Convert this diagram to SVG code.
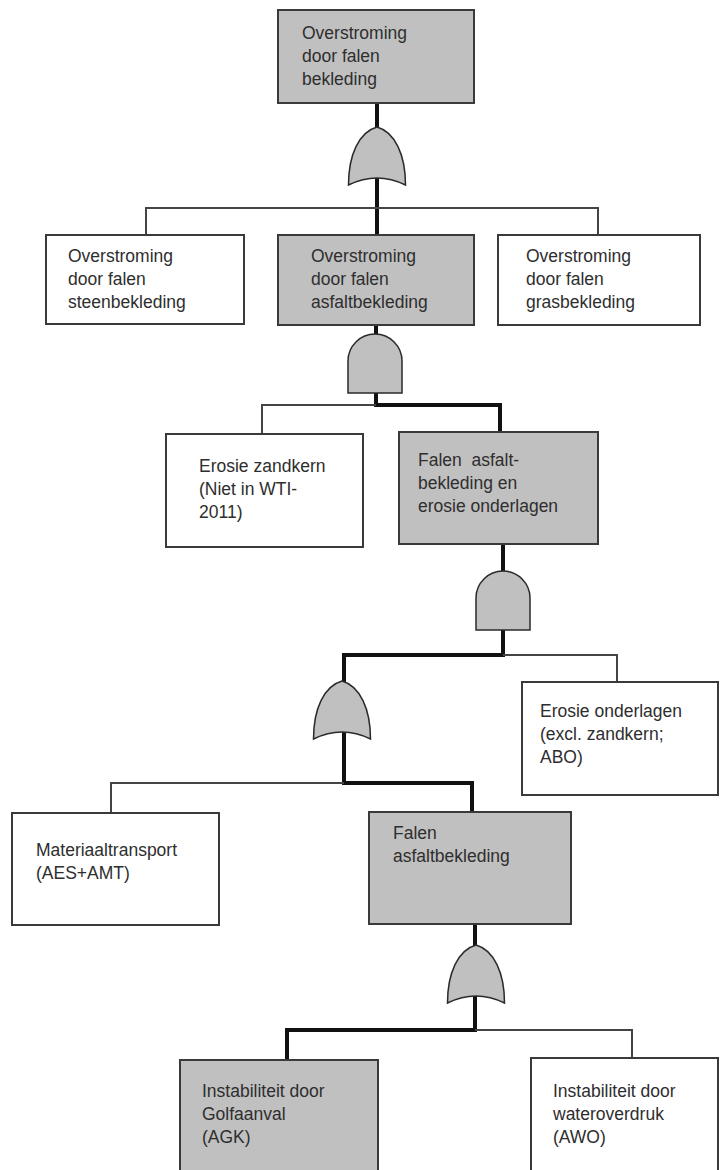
<svg xmlns="http://www.w3.org/2000/svg" width="722" height="1170" viewBox="0 0 722 1170">
<style>
.box{stroke:#3a3a3a;stroke-width:2}
.g{fill:#c0c0c0}
.w{fill:#ffffff}
.gate{fill:#c0c0c0;stroke:#2a2a2a;stroke-width:1.5}
.thick{fill:none;stroke:#111;stroke-width:4;stroke-linejoin:miter}
.thin{fill:none;stroke:#444;stroke-width:2;stroke-linejoin:miter}
text{font-family:"Liberation Sans",Arial,sans-serif;font-size:17.5px;fill:#2e2e2e;white-space:pre}
</style>
<defs>
<path id="or" d="M0,0 C18,5 28.5,28 28.5,58 Q0,44 -28.5,58 C-28.5,28 -18,5 0,0 Z"/>
<path id="and" d="M-27,59 L-27,27 A27,27 0 0 1 27,27 L27,59 Z"/>
</defs>
<rect width="722" height="1170" fill="#fff"/>
<g id="connectors">
<path class="thick" d="M377,103 V235"/>
<path class="thick" d="M376,325 V405 H500 V432"/>
<path class="thick" d="M503,544 V655 H344 V783 H472 V812"/>
<path class="thick" d="M475,924 V1030 H287 V1060"/>
<path class="thin" d="M146,235 V208 H598 V235"/>
<path class="thin" d="M376,405 H262 V434"/>
<path class="thin" d="M503,655 H617 V682"/>
<path class="thin" d="M344,783 H111 V813"/>
<path class="thin" d="M475,1030 H632 V1058"/>
</g>
<g id="gate1"><use href="#or" class="gate" transform="translate(377,127)"/></g>
<g id="gate2"><use href="#and" class="gate" transform="translate(375,334)"/></g>
<g id="gate3"><use href="#and" class="gate" transform="translate(503,571)"/></g>
<g id="gate4"><use href="#or" class="gate" transform="translate(342,681)"/></g>
<g id="gate5"><use href="#or" class="gate" transform="translate(476,945)"/></g>
<g id="n-top"><rect class="box g" x="278" y="10" width="196" height="93"/>
<text x="302" y="39">Overstroming</text><text x="302" y="62">door falen</text><text x="302" y="85">bekleding</text></g>
<g id="n-steen"><rect class="box w" x="46" y="235" width="198" height="89"/>
<text x="68" y="262">Overstroming</text><text x="68" y="285">door falen</text><text x="68" y="308">steenbekleding</text></g>
<g id="n-asfalt"><rect class="box g" x="278" y="235" width="196" height="90"/>
<text x="311" y="262">Overstroming</text><text x="311" y="285">door falen</text><text x="311" y="308">asfaltbekleding</text></g>
<g id="n-gras"><rect class="box w" x="498" y="235" width="202" height="90"/>
<text x="526" y="262">Overstroming</text><text x="526" y="285">door falen</text><text x="526" y="308">grasbekleding</text></g>
<g id="n-zandkern"><rect class="box w" x="166" y="434" width="197" height="113"/>
<text x="199" y="472">Erosie zandkern</text><text x="199" y="495">(Niet in WTI-</text><text x="199" y="518">2011)</text></g>
<g id="n-falen-erosie"><rect class="box g" x="399" y="432" width="199" height="112"/>
<text x="418" y="466">Falen  asfalt-</text><text x="418" y="489">bekleding en</text><text x="418" y="512">erosie onderlagen</text></g>
<g id="n-onderlagen"><rect class="box w" x="522" y="682" width="196" height="113"/>
<text x="540" y="717">Erosie onderlagen</text><text x="540" y="740">(excl. zandkern;</text><text x="540" y="763">ABO)</text></g>
<g id="n-materiaal"><rect class="box w" x="12" y="813" width="207" height="112"/>
<text x="36" y="856">Materiaaltransport</text><text x="36" y="879">(AES+AMT)</text></g>
<g id="n-falen"><rect class="box g" x="369" y="812" width="202" height="112"/>
<text x="393" y="839">Falen</text><text x="393" y="862">asfaltbekleding</text></g>
<g id="n-agk"><rect class="box g" x="180" y="1060" width="198" height="118"/>
<text x="202" y="1097">Instabiliteit door</text><text x="202" y="1120">Golfaanval</text><text x="202" y="1143">(AGK)</text></g>
<g id="n-awo"><rect class="box w" x="531" y="1058" width="187" height="120"/>
<text x="553" y="1097">Instabiliteit door</text><text x="553" y="1120">wateroverdruk</text><text x="553" y="1143">(AWO)</text></g>
</svg>
